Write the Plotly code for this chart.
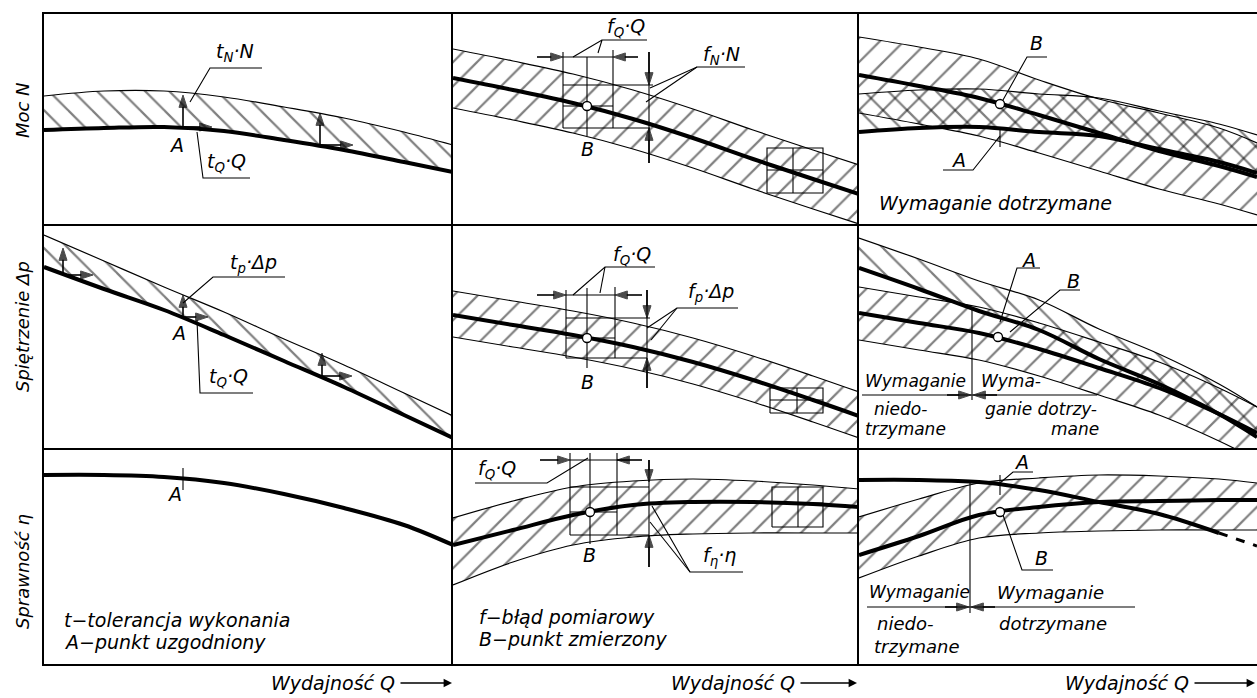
import plotly.graph_objects as go

# ---------------- panel sizes (axis units) ----------------
COL_W = [409, 406, 398]
ROW_H = [210, 224, 216]
ROW_TITLES = ["Moc N", "Spiętrzenie Δp", "Sprawność η"]
ROW_TITLE_Y = [114, 121, 92]
X_LABEL = "Wydajność Q"

# ---------------- Q grids (flow) ----------------
Q_C1 = [0, 60, 120, 180, 240, 300, 360, 409]
Q_C2 = [0, 60, 120, 180, 240, 300, 360, 406]
Q_C3 = [0, 60, 120, 180, 240, 300, 360, 398]

# ---------------- Row 1: power N ----------------
N_tol_curve = [94, 96, 97, 93, 84, 74, 62, 52]
N_tol_upper = [128, 133, 133, 127, 117, 106, 92, 79]
N_meas_curve = [146, 134, 121, 105, 86, 65, 45, 30]
N_meas_upper = [175, 163, 150, 134, 115, 94, 74, 59]
N_meas_lower = [116, 104, 91, 75, 56, 35, 15, 0]
N_cmp_A = [92, 96, 97, 92, 88, 75, 62, 51]
N_cmp_A_upper = [130, 134, 135, 130, 126, 113, 100, 89]
N_cmp_B = [149, 138, 126, 109, 91, 73, 58, 47]
N_cmp_B_upper = [187, 177, 165, 144, 125, 111, 96, 81]
N_cmp_B_lower = [111, 100, 88, 71, 53, 35, 20, 9]

# ---------------- Row 2: pressure rise dp ----------------
P_tol_curve = [181, 159, 138, 113, 87, 61, 33, 10]
P_tol_upper = [213, 187, 161, 136, 109, 83, 55, 32]
P_meas_curve = [133, 123, 113, 101, 86, 68, 48, 32]
P_meas_upper = [157, 147, 137, 125, 110, 92, 72, 56]
P_meas_lower = [111, 101, 91, 79, 64, 46, 26, 10]
P_cmp_A = [180, 159, 137, 118, 89, 64, 34, 11]
P_cmp_A_upper = [210, 189, 167, 148, 119, 94, 64, 41]
P_cmp_B = [135, 125, 115, 99, 80, 60, 34, 15]
P_cmp_B_upper = [161, 151, 141, 125, 106, 86, 60, 41]
P_cmp_B_lower = [108, 98, 88, 72, 53, 33, 7, -12]

# ---------------- Row 3: efficiency ----------------
E_tol_curve = [189, 189, 187, 181, 170, 156, 139, 119]
E_meas_curve = [119, 134, 149, 159, 162, 162, 160, 157]
E_meas_upper = [146, 163, 177, 183, 185, 183, 179, 175]
E_meas_lower = [79, 102, 119, 127, 130, 131, 131, 131]
E_cmp_A = [184, 184, 182, 174, 162, 150, 131, 118]
E_cmp_B = [109, 128, 149, 157, 162, 163, 164, 164]
E_cmp_B_upper = [147, 165, 181, 186, 189, 188, 185, 181]
E_cmp_B_lower = [86, 108, 126, 131, 133, 134, 134, 134]

# ---------------- points B (Q, value) ----------------
PT_B_12 = (134, 118)
PT_B_22 = (134, 110)
PT_B_32 = (137, 152)
PT_B_13 = (141, 120)
PT_B_23 = (139, 111)
PT_B_33 = (141, 152)

# tolerance arrows (Q, value start, Q end, value end)
TOL_ARROWS_11 = [(139, 97, 139, 129), (139, 97, 168, 97), (276, 79, 276, 111), (276, 79, 309, 79)]
TOL_ARROWS_21 = [(19, 173, 19, 200), (19, 173, 49, 173), (139, 131, 139, 153), (139, 131, 164, 131),
                 (278, 72, 278, 95), (278, 72, 308, 72)]

# bottom axis label: text centre Q, arrow end Q (per column)
X_LABEL_POS = [(333 - 44, 408), (733 - 453, 404), (1127 - 859, 396)]
X_LABEL_Y = -0.0292   # paper units below the bottom frame

FONT = "DejaVu Sans"
fig = go.Figure()


def axn(r, c):
    i = (r - 1) * 3 + c
    return ("x" if i == 1 else f"x{i}"), ("y" if i == 1 else f"y{i}")


def seg(r, c, xs, ys, w=1.1, dash="solid", shape="linear"):
    xa, ya = axn(r, c)
    fig.add_trace(go.Scatter(x=xs, y=ys, xaxis=xa, yaxis=ya, mode="lines",
                             line=dict(color="black", width=w, dash=dash, shape=shape),
                             hoverinfo="skip", showlegend=False))


def band(r, c, q, lo, hi, shape):
    xa, ya = axn(r, c)
    fig.add_trace(go.Scatter(x=q, y=lo, xaxis=xa, yaxis=ya, mode="lines",
                             line=dict(color="black", width=1.2, shape="spline"),
                             hoverinfo="skip", showlegend=False))
    fig.add_trace(go.Scatter(x=q, y=hi, xaxis=xa, yaxis=ya, mode="lines",
                             line=dict(color="black", width=1.2, shape="spline"),
                             fill="tonexty", fillcolor="rgba(0,0,0,0)",
                             fillpattern=dict(shape=shape, size=17, solidity=0.13,
                                              fgcolor="black", bgcolor="rgba(0,0,0,0)"),
                             hoverinfo="skip", showlegend=False))


def thick(r, c, q, v):
    seg(r, c, q, v, w=4, shape="spline")


def circle(r, c, pt):
    xa, ya = axn(r, c)
    fig.add_trace(go.Scatter(x=[pt[0]], y=[pt[1]], xaxis=xa, yaxis=ya, mode="markers",
                             marker=dict(size=9, color="white", line=dict(color="black", width=1.3)),
                             hoverinfo="skip", showlegend=False))


def arrow(r, c, x0, y0, x1, y1, size=13):
    xa, ya = axn(r, c)
    fig.add_trace(go.Scatter(x=[x0, x1], y=[y0, y1], xaxis=xa, yaxis=ya, mode="lines+markers",
                             line=dict(color="black", width=1.6),
                             marker=dict(symbol=["circle", "arrow"], size=[0, size],
                                         angleref="previous", color="black",
                                         line=dict(width=1, color="black")),
                             cliponaxis=False, hoverinfo="skip", showlegend=False))


annotations = []


def label(r, c, x, y, text, anchor="center", size=19):
    xa, ya = axn(r, c)
    annotations.append(dict(x=x, y=y, xref=xa, yref=ya, text=text, showarrow=False,
                            xanchor=anchor, yanchor="middle",
                            font=dict(family=FONT, size=size, color="black", style="italic")))


def rect_cross(r, c, x0, x1, y0, y1, xc, yc):
    seg(r, c, [x0, x1, x1, x0, x0], [y0, y0, y1, y1, y0])
    seg(r, c, [xc, xc], [y0, y1])
    seg(r, c, [x0, x1], [yc, yc])


# ================= Row 1 =================
# (1,1)
band(1, 1, Q_C1, N_tol_curve, N_tol_upper, "\\")
thick(1, 1, Q_C1, N_tol_curve)
for a in TOL_ARROWS_11:
    arrow(1, 1, *a)
seg(1, 1, [146, 166, 218], [122, 156, 156])
seg(1, 1, [153, 159, 206], [92, 46, 46])
label(1, 1, 191, 172, "t<sub>N</sub>·N")
label(1, 1, 182, 62, "t<sub>Q</sub>·Q")
label(1, 1, 132, 79, "A")

# (1,2)
band(1, 2, Q_C2, N_meas_lower, N_meas_upper, "/")
thick(1, 2, Q_C2, N_meas_curve)
seg(1, 2, [110, 110], [172, 96]); seg(1, 2, [160, 160], [174, 96]); seg(1, 2, [134, 134], [167, 88])
seg(1, 2, [110, 200], [139, 139]); seg(1, 2, [110, 160], [118, 118]); seg(1, 2, [110, 197], [96, 96])
seg(1, 2, [110, 160], [167, 167])
arrow(1, 2, 84, 167, 110, 167); arrow(1, 2, 185, 167, 160, 167)
seg(1, 2, [196, 196], [172, 61])
arrow(1, 2, 196, 172, 196, 139); arrow(1, 2, 196, 61, 196, 96)
seg(1, 2, [120, 149, 194], [167, 184, 184]); seg(1, 2, [145, 149], [171, 184])
seg(1, 2, [197, 244, 292], [136, 157, 157]); seg(1, 2, [193, 244], [122, 157])
rect_cross(1, 2, 314, 370, 31, 76, 340, 54)
circle(1, 2, PT_B_12)
label(1, 2, 173, 197, "f<sub>Q</sub>·Q")
label(1, 2, 268, 169, "f<sub>N</sub>·N")
label(1, 2, 134, 75, "B")

# (1,3)
band(1, 3, Q_C3, N_cmp_B_lower, N_cmp_B_upper, "/")
band(1, 3, Q_C3, N_cmp_A, N_cmp_A_upper, "\\")
thick(1, 3, Q_C3, N_cmp_B)
thick(1, 3, Q_C3, N_cmp_A)
seg(1, 3, [141, 141], [96, 77])
seg(1, 3, [141, 114, 84], [88, 54, 54])
seg(1, 3, [144, 168, 188], [124, 167, 167])
circle(1, 3, PT_B_13)
label(1, 3, 99, 64, "A")
label(1, 3, 177, 181, "B")
label(1, 3, 18, 21, "Wymaganie dotrzymane", anchor="left")

# ================= Row 2 =================
# (2,1)
band(2, 1, Q_C1, P_tol_curve, P_tol_upper, "\\")
thick(2, 1, Q_C1, P_tol_curve)
for a in TOL_ARROWS_21:
    arrow(2, 1, *a)
seg(2, 1, [139, 169, 241], [145, 171, 171])
seg(2, 1, [153, 156, 209], [128, 55, 55])
label(2, 1, 209, 185, "t<sub>p</sub>·Δp")
label(2, 1, 184, 71, "t<sub>Q</sub>·Q")
label(2, 1, 134, 115, "A")

# (2,2)
band(2, 2, Q_C2, P_meas_lower, P_meas_upper, "/")
thick(2, 2, Q_C2, P_meas_curve)
seg(2, 2, [113, 113], [158, 90]); seg(2, 2, [162, 162], [161, 90]); seg(2, 2, [134, 134], [160, 80])
seg(2, 2, [113, 197], [130, 130]); seg(2, 2, [113, 162], [110, 110]); seg(2, 2, [113, 194], [90, 90])
seg(2, 2, [113, 162], [153, 153])
arrow(2, 2, 84, 153, 113, 153); arrow(2, 2, 189, 153, 162, 153)
seg(2, 2, [194, 194], [158, 60])
arrow(2, 2, 194, 158, 194, 130); arrow(2, 2, 194, 60, 194, 90)
seg(2, 2, [120, 152, 202], [153, 181, 181]); seg(2, 2, [147, 152], [155, 181])
seg(2, 2, [194, 224, 285], [120, 140, 140]); seg(2, 2, [198, 224], [108, 140])
rect_cross(2, 2, 317, 370, 35, 60, 344, 48)
circle(2, 2, PT_B_22)
label(2, 2, 179, 192, "f<sub>Q</sub>·Q")
label(2, 2, 258, 156, "f<sub>p</sub>·Δp")
label(2, 2, 134, 66, "B")

# (2,3)
band(2, 3, Q_C3, P_cmp_B_lower, P_cmp_B_upper, "/")
band(2, 3, Q_C3, P_cmp_A, P_cmp_A_upper, "\\")
thick(2, 3, Q_C3, P_cmp_A)
thick(2, 3, Q_C3, P_cmp_B)
seg(2, 3, [113, 113], [141, 48])
seg(2, 3, [3, 238], [53, 53])
arrow(2, 3, 88, 53, 112, 53); arrow(2, 3, 138, 53, 114, 53)
seg(2, 3, [141, 158, 181], [126, 180, 180])
seg(2, 3, [151, 201, 221], [116, 158, 158])
circle(2, 3, PT_B_23)
label(2, 3, 169, 188, "A")
label(2, 3, 214, 167, "B")
label(2, 3, 4, 67, "Wymaganie", anchor="left", size=17)
label(2, 3, 120, 67, "Wyma-", anchor="left", size=17)
label(2, 3, 13, 39, "niedo-", anchor="left", size=17)
label(2, 3, 124, 39, "ganie dotrzy-", anchor="left", size=17)
label(2, 3, 4, 19, "trzymane", anchor="left", size=17)
label(2, 3, 190, 19, "mane", anchor="left", size=17)

# ================= Row 3 =================
# (3,1)
thick(3, 1, Q_C1, E_tol_curve)
seg(3, 1, [139, 139], [196, 174])
label(3, 1, 130, 170, "A")
label(3, 1, 18, 44, "t−tolerancja wykonania", anchor="left")
label(3, 1, 18, 22, "A−punkt uzgodniony", anchor="left")

# (3,2)
band(3, 2, Q_C2, E_meas_lower, E_meas_upper, "/")
thick(3, 2, Q_C2, E_meas_curve)
seg(3, 2, [117, 117], [211, 129]); seg(3, 2, [164, 164], [211, 129]); seg(3, 2, [137, 137], [211, 120])
seg(3, 2, [117, 196], [177, 177]); seg(3, 2, [117, 164], [152, 152]); seg(3, 2, [117, 196], [129, 129])
seg(3, 2, [117, 164], [204, 204])
arrow(3, 2, 87, 204, 117, 204); arrow(3, 2, 189, 204, 164, 204)
seg(3, 2, [196, 196], [204, 97])
arrow(3, 2, 196, 204, 196, 182); arrow(3, 2, 196, 97, 196, 129)
seg(3, 2, [22, 94, 135], [181, 181, 206])
seg(3, 2, [199, 237, 290], [158, 92, 92]); seg(3, 2, [197, 237], [142, 92])
rect_cross(3, 2, 319, 370, 137, 177, 345, 161)
circle(3, 2, PT_B_32)
label(3, 2, 44, 195, "f<sub>Q</sub>·Q")
label(3, 2, 266, 108, "f<sub>η</sub>·η")
label(3, 2, 136, 109, "B")
label(3, 2, 24, 47, "f−błąd pomiarowy", anchor="left")
label(3, 2, 24, 25, "B−punkt zmierzony", anchor="left")

# (3,3)
band(3, 3, Q_C3, E_cmp_B_lower, E_cmp_B_upper, "/")
thick(3, 3, Q_C3, E_cmp_B)
thick(3, 3, Q_C3[:7], E_cmp_A[:7])
seg(3, 3, Q_C3[6:], E_cmp_A[6:], w=3, dash="dash")
seg(3, 3, [111, 111], [181, 51])
seg(3, 3, [8, 276], [57, 57])
arrow(3, 3, 86, 57, 110, 57); arrow(3, 3, 136, 57, 112, 57)
seg(3, 3, [141, 141], [189, 169])
seg(3, 3, [141, 154, 174], [181, 192, 192])
seg(3, 3, [144, 163, 194], [149, 94, 94])
circle(3, 3, PT_B_33)
label(3, 3, 162, 202, "A")
label(3, 3, 182, 106, "B")
label(3, 3, 8, 72, "Wymaganie", anchor="left", size=17)
label(3, 3, 136, 72, "Wymaganie", anchor="left", size=18)
label(3, 3, 16, 41, "niedo-", anchor="left", size=18)
label(3, 3, 138, 41, "dotrzymane", anchor="left", size=18)
label(3, 3, 13, 18, "trzymane", anchor="left", size=18)

# bottom axis labels: text with an arrow running from the text to the right
for c, (tx, a1) in enumerate(X_LABEL_POS, start=1):
    xa, _ = axn(3, c)
    annotations.append(dict(x=a1, y=X_LABEL_Y, xref=xa, yref="paper", ax=tx, ay=0,
                            axref=xa, ayref="pixel", text=X_LABEL, showarrow=True,
                            arrowhead=2, arrowsize=1.2, arrowwidth=1.4, arrowcolor="black",
                            standoff=0, borderpad=5,
                            font=dict(family=FONT, size=19, color="black", style="italic")))

# row titles
for r, (t, ty) in enumerate(zip(ROW_TITLES, ROW_TITLE_Y), start=1):
    _, ya = axn(r, 1)
    annotations.append(dict(x=-0.0181, y=ty, xref="paper", yref=ya, text=t, showarrow=False,
                            textangle=-90, xanchor="center", yanchor="middle",
                            font=dict(family=FONT, size=18, color="black", style="italic")))

# ---------------- layout ----------------
col_dom = [[0, 409 / 1213], [409 / 1213, 815 / 1213], [815 / 1213, 1]]
row_dom = [[440 / 650, 1], [216 / 650, 440 / 650], [0, 216 / 650]]
layout = dict(width=1257, height=698, margin=dict(l=44, r=0, t=14, b=34),
              paper_bgcolor="white", plot_bgcolor="white", showlegend=False,
              annotations=annotations)
for r in range(1, 4):
    for c in range(1, 4):
        i = (r - 1) * 3 + c
        xk = "xaxis" if i == 1 else f"xaxis{i}"
        yk = "yaxis" if i == 1 else f"yaxis{i}"
        xa, ya = axn(r, c)
        layout[xk] = dict(domain=col_dom[c - 1], range=[0, COL_W[c - 1]], anchor=ya,
                          showgrid=False, zeroline=False, showticklabels=False, ticks="",
                          showline=True, linecolor="black", linewidth=1.5,
                          mirror=(r == 1), fixedrange=True)
        layout[yk] = dict(domain=row_dom[r - 1], range=[0, ROW_H[r - 1]], anchor=xa,
                          showgrid=False, zeroline=False, showticklabels=False, ticks="",
                          showline=True, linecolor="black", linewidth=1.5, fixedrange=True)
fig.update_layout(**layout)
fig.write_html("out.html", config={"displayModeBar": False},
               post_script="document.body.style.margin='0';document.body.style.overflow='hidden';")
